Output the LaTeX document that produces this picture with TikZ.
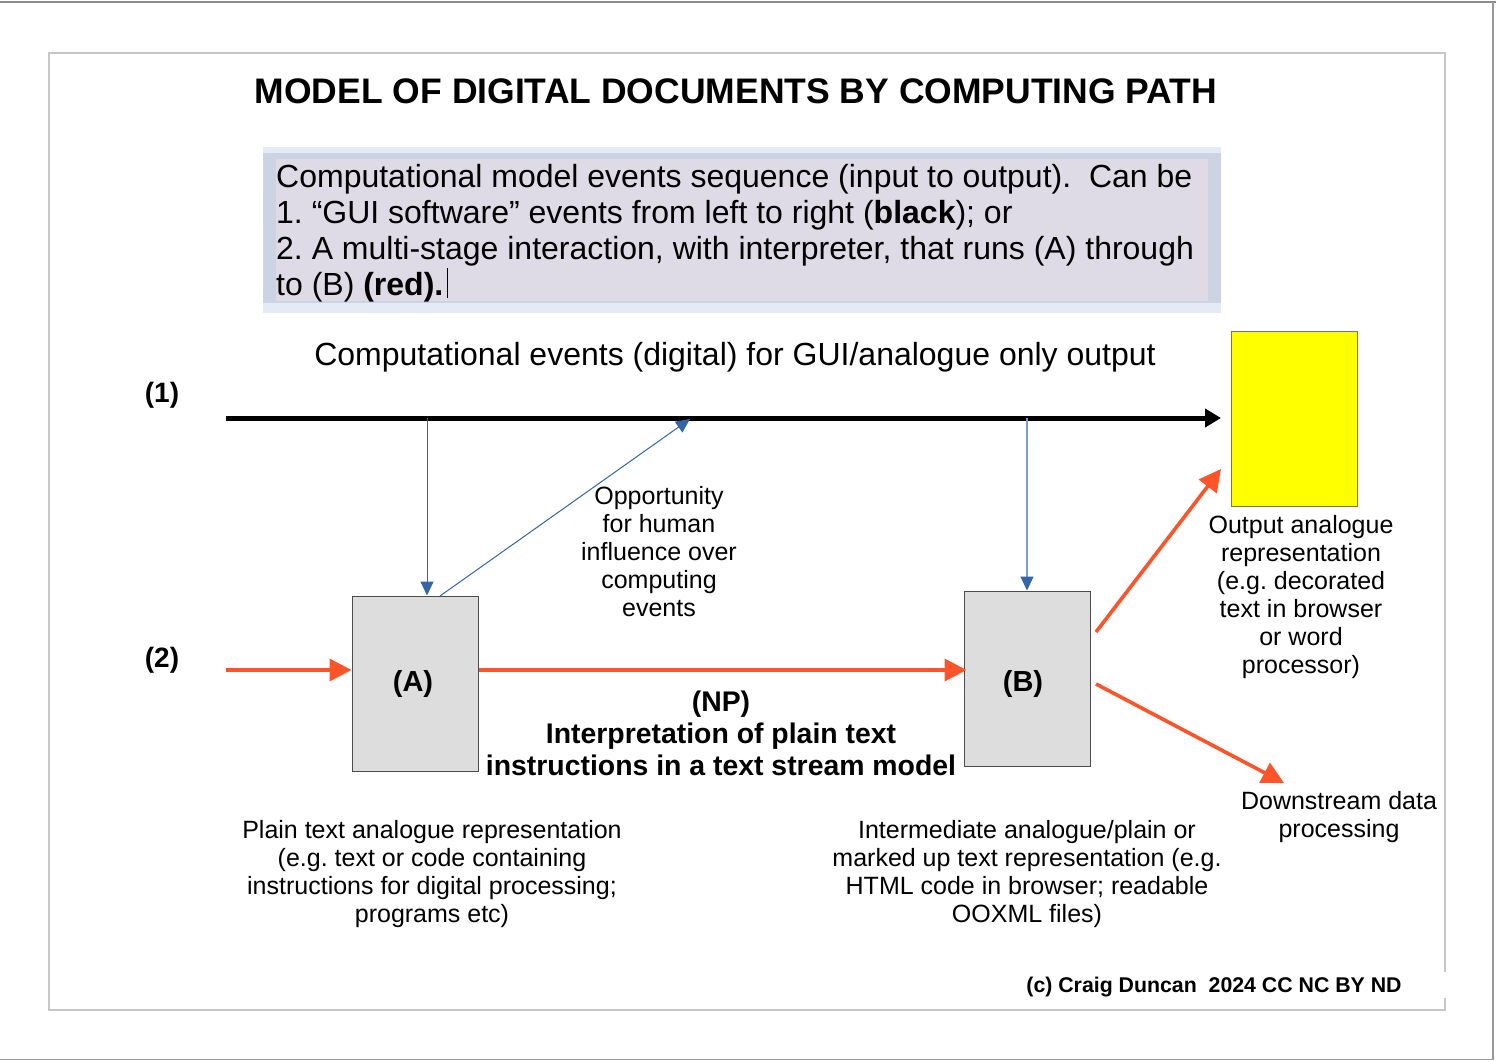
\documentclass[tikz,border=0pt]{standalone}
\usepackage{fontspec}
\setmainfont{Liberation Sans}
\frenchspacing
\usetikzlibrary{arrows.meta,calc}
\definecolor{redarr}{HTML}{FF5429}
\definecolor{bluearr}{HTML}{3465A4}
\definecolor{bluelight}{HTML}{7B9FCF}
\definecolor{boxgray}{HTML}{DDDDDD}
\definecolor{bandblue}{HTML}{E4EBF5}
\definecolor{bandmid}{HTML}{CDD3E3}
\definecolor{lavender}{HTML}{DEDBE6}
\definecolor{outyellow}{HTML}{FFFF00}
\tikzset{
  txt/.style={inner sep=0pt, align=center, font=\fontsize{25}{28}\selectfont},
  boxtxt/.style={inner sep=0pt, anchor=base west, font=\fontsize{32}{36}\selectfont},
  procbox/.style={draw=black!70, fill=boxgray, line width=1pt, minimum width=126pt, minimum height=175pt, inner sep=0pt},
  boxlabel/.style={inner sep=0pt, font=\bfseries\fontsize{29}{32}\selectfont},
  pathlabel/.style={inner sep=0pt, font=\bfseries\fontsize{28}{32}\selectfont},
  redarrow/.style={draw=redarr, line width=3.6pt, -{Triangle[length=22pt,width=22pt]}},
  bluearrow/.style={draw=bluearr, line width=1pt, -{Triangle[length=14pt,width=13pt,color=bluearr]}},
}
\begin{document}
\begin{tikzpicture}[x=1pt,y=-1pt]
\useasboundingbox (0,0) rectangle (1496,1062);
\fill[white] (0,0) rectangle (1496,1062);
% page edges
\draw[black!45, line width=2pt] (0,2) -- (1496,2);
\draw[black!40, line width=1.5pt] (1493,2) -- (1493,1060);
\draw[black!40, line width=1.5pt] (0,1059.5) -- (1493,1059.5);
% inner frame
\draw[black!22, line width=1.2pt] (49,53) rectangle (1445,1010);
\fill[white] (1440,972) rectangle (1450,998);
% title
\node[inner sep=0pt, font=\bfseries\fontsize{35.5}{40}\selectfont] (title) at (736,91) {MODEL OF DIGITAL DOCUMENTS BY COMPUTING PATH};
% explanation box
\fill[bandblue] (263,147) rectangle (1221,313);
\fill[bandmid] (263,153) rectangle (1221,303);
\fill[lavender] (276,159) rectangle (1208,301);
\node[boxtxt] (l1) at (276,187) {Computational model events sequence (input to output).\ \ Can be};
\node[boxtxt] (l2) at (276,223) {1. “GUI software” events from left to right (\textbf{black}); or};
\node[boxtxt] (l3) at (276,259) {2. A multi-stage interaction, with interpreter, that runs (A) through};
\node[boxtxt] (l4) at (276,295) {to (B) \textbf{(red).}};
\draw[black, line width=1pt] (l4.base east) ++(4,-27) -- ++(0,30);
% headline of path 1
\node[inner sep=0pt, font=\fontsize{32}{36}\selectfont] (head) at (735,357) {Computational events (digital) for GUI/analogue only output};
\node[pathlabel] (p1) at (162,395) {(1)};
\node[pathlabel] (p2) at (162,660) {(2)};
% coordinates of black line
\coordinate (s1) at (226,418);
\coordinate (e1) at (1221,418);
\coordinate (ta) at (427,418);
\coordinate (tb) at (1027,418);
\coordinate (tc) at (690,419);
\draw[black, line width=5pt, -{Triangle[length=16pt,width=18pt]}] (s1) -- (e1);
% output box
\node[draw=black!55, fill=outyellow, line width=1pt, minimum width=126pt, minimum height=175pt, inner sep=0pt] (out) at (1294,418.5) {};
% process boxes
\node[procbox] (A) at (415,683.5) {};
\node[boxlabel] (Alab) at (413,684) {(A)};
\node[procbox] (B) at (1027,678.5) {};
\node[boxlabel] (Blab) at (1023,684) {(B)};
% blue arrows
\draw[bluearrow] (ta) -- (A.north -| ta);
\coordinate (aup) at (440,596);
\draw[bluearrow] (aup) -- (tc);
\draw[bluearrow, draw=bluelight, line width=1.2pt] (tb) -- (B.north -| tb);
% red arrows
\coordinate (s2) at (226,670);
\draw[redarrow] (s2) -- (A.west |- s2);
\draw[redarrow] (A.east |- s2) -- ([xshift=3pt]B.west |- s2);
\coordinate (b1) at (1096,632);
\coordinate (o1) at (1221,469);
\draw[redarrow] (b1) -- (o1);
\coordinate (b2) at (1096,684);
\coordinate (d1) at (1284,783);
\draw[redarrow] (b2) -- (d1);
% texts
\node[txt] (opp) at (659,552) {Opportunity\\for human\\influence over\\computing\\events};
\node[txt] (outtxt) at (1301,597) {Output analogue\\representation\\(e.g. decorated\\text in browser\\or word\\processor)};
\node[txt] (down) at (1339,817) {Downstream data\\processing};
\node[txt] (plain) at (432,874) {Plain text analogue representation\\(e.g. text or code containing\\instructions for digital processing;\\programs etc)};
\node[txt] (inter) at (1027,874) {Intermediate analogue/plain or\\marked up text representation (e.g.\\HTML code in browser; readable\\OOXML files)};
\node[inner sep=0pt, align=center, font=\bfseries\fontsize{28.4}{32}\selectfont] (np) at (721,733) {(NP)\\Interpretation of plain text\\instructions in a text stream model};
\node[inner sep=0pt, font=\bfseries\fontsize{21.3}{24}\selectfont] (copy) at (1214,987) {(c) Craig Duncan\ \ 2024 CC NC BY ND};
\end{tikzpicture}
\end{document}
